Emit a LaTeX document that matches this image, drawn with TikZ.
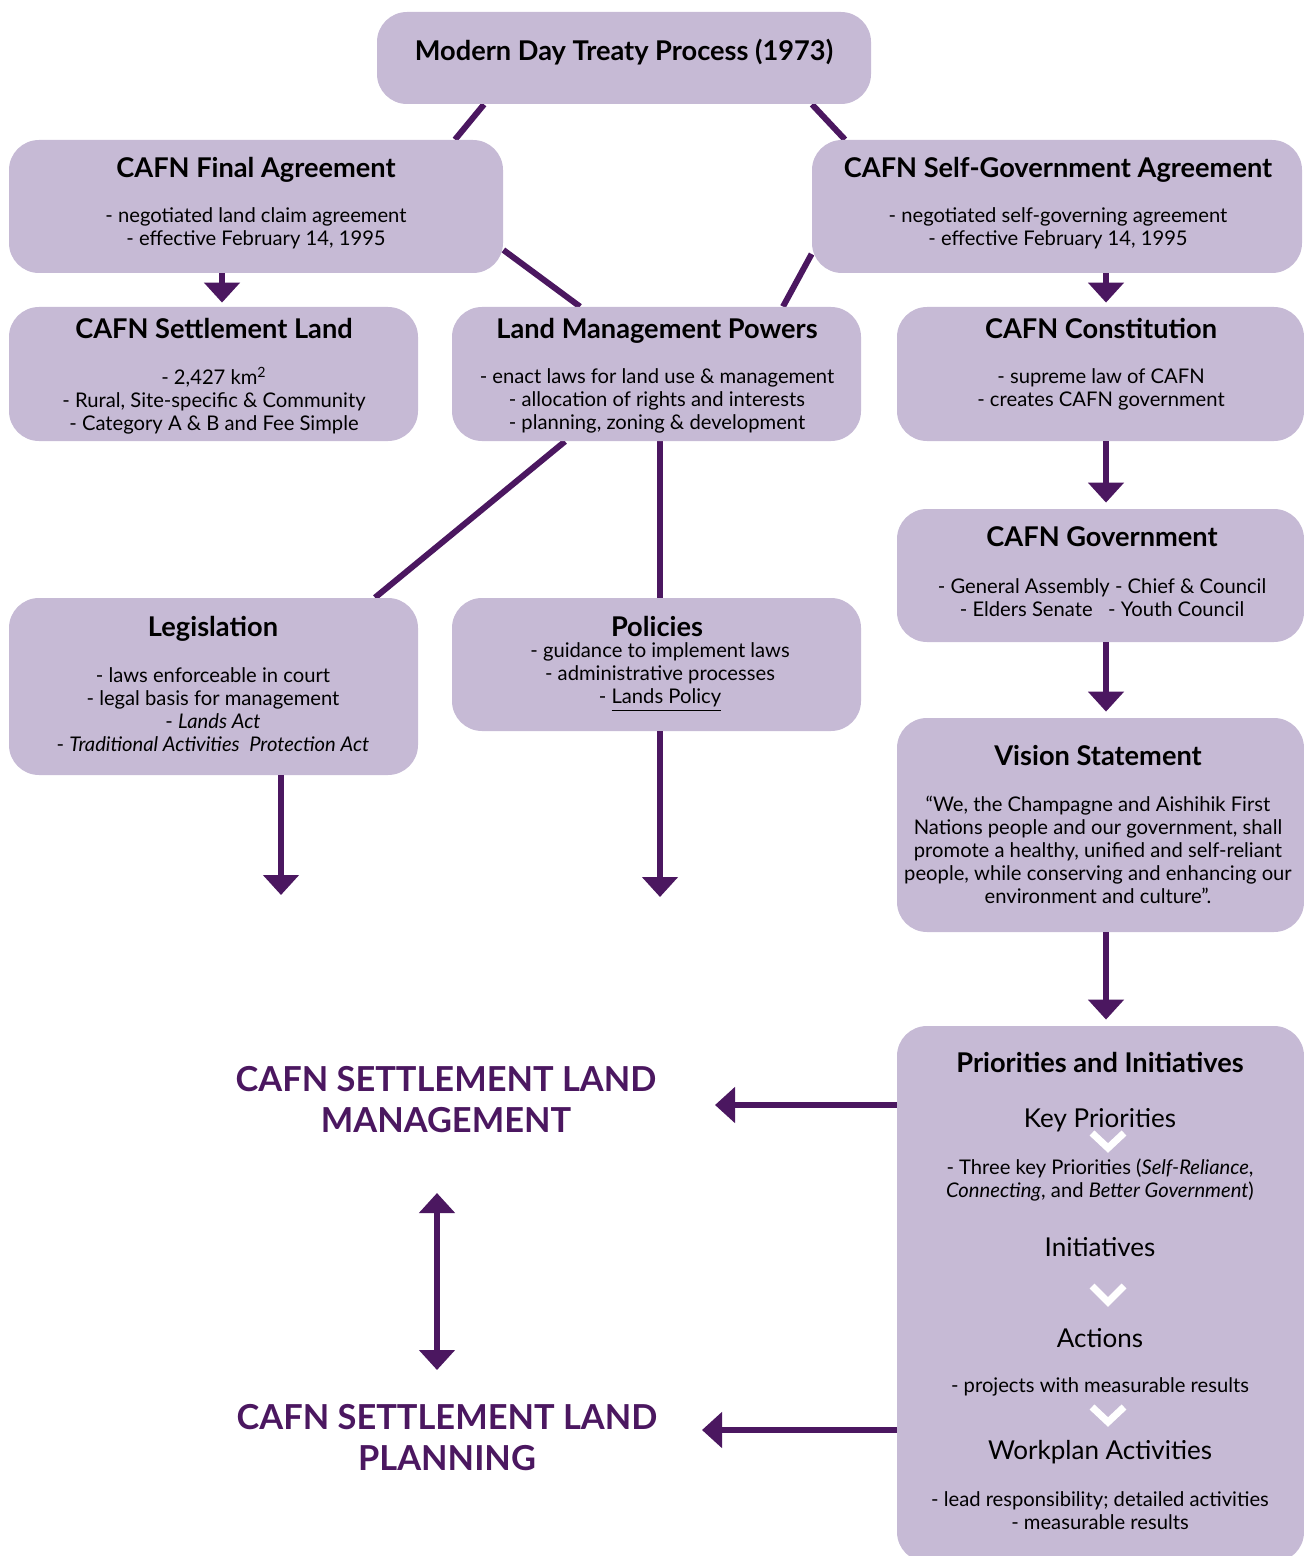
\documentclass[tikz,border=0pt]{standalone}
\usepackage{fontspec}
\setmainfont{Lato}
\usetikzlibrary{arrows.meta,fit,backgrounds}
\definecolor{boxfill}{HTML}{C6BAD5}
\definecolor{plum}{HTML}{4B1760}
\begin{document}
\begin{tikzpicture}[x=0.5pt, y=-0.5pt,
  box/.style = {fill=boxfill, rounded corners=15pt, inner sep=0pt},
  ttl/.style = {font=\fontsize{13.6}{15}\selectfont\bfseries, inner sep=0pt, anchor=base},
  txt/.style = {font=\fontsize{10.1}{11.5}\selectfont, align=center, inner sep=0pt},
  sub/.style = {font=\fontsize{13}{15}\selectfont, inner sep=0pt, anchor=base},
  big/.style = {font=\fontsize{17.2}{20.5}\selectfont\bfseries, text=plum, align=center, inner sep=0pt},
  link/.style = {draw=plum, line width=3pt},
  arr/.style = {link, -{Triangle[width=17.5pt,length=10pt]}},
  chev/.style = {draw=white, line width=3.5pt}]

\useasboundingbox (0,0) rectangle (1304,1556);

% boxes
\node[box, fit={(377,12) (871,104)}] (treaty) {};
\node[box, fit={(9,140) (503,273)}] (final) {};
\node[box, fit={(812,140) (1302,273)}] (selfgov) {};
\node[box, fit={(9,307) (418,441)}] (land) {};
\node[box, fit={(452,307) (861,441)}] (powers) {};
\node[box, fit={(897,307) (1304,441)}] (constit) {};
\node[box, fit={(897,509) (1304,642)}] (gov) {};
\node[box, fit={(9,598) (418,775)}] (legis) {};
\node[box, fit={(452,598) (861,731)}] (policy) {};
\node[box, fit={(897,718) (1304,932)}] (vision) {};
\node[box, fit={(897,1026) (1304,1562)}] (prior) {};

% texts
\node[ttl] (treatyt) at (624,61) {Modern Day Treaty Process (1973)};

\node[ttl] (finalt) at (256,178) {CAFN Final Agreement};
\node[txt] (finalb) at (256,228.5) {- negotiated land claim agreement\\- effective February 14, 1995};

\node[ttl] (selfgovt) at (1058,178) {CAFN Self-Government Agreement};
\node[txt] (selfgovb) at (1058,228.5) {- negotiated self-governing agreement\\- effective February 14, 1995};

\node[ttl] (landt) at (214,339) {CAFN Settlement Land};
\node[txt] (landb) at (214,401) {- 2,427 km\textsuperscript{2}\\- Rural, Site-specific \& Community\\- Category A \& B and Fee Simple};

\node[ttl] (powerst) at (657,339) {Land Management Powers};
\node[txt] (powersb) at (657,401) {- enact laws for land use \& management\\- allocation of rights and interests\\- planning, zoning \& development};

\node[ttl] (constitt) at (1101,339) {CAFN Constitution};
\node[txt] (constitb) at (1101,389.5) {- supreme law of CAFN\\- creates CAFN government};

\node[ttl] (govt) at (1102,546) {CAFN Government};
\node[txt] (govb) at (1102,597.5) {- General Assembly - Chief \& Council\\- Elders Senate \ \ - Youth Council};

\node[ttl] (legist) at (213,636) {Legislation};
\node[txt] (legisb) at (213,710) {- laws enforceable in court\\- legal basis for management\\- \textit{Lands Act}\\- \textit{Traditional Activities\ \ Protection Act}};

\node[ttl] (policyt) at (657,636) {Policies};
\node[txt] (policyb) at (660,677) {- guidance to implement laws\\- administrative processes\\- \underline{Lands Policy}};

\node[ttl] (visiont) at (1098,765) {Vision Statement};
\node[txt] (visionb) at (1098,850) {“We, the Champagne and Aishihik First\\Nations people and our government, shall\\promote a healthy, unified and self-reliant\\people, while conserving and enhancing our\\environment and culture”.};

\node[ttl] (priort) at (1100,1072) {Priorities and Initiatives};
\node[sub] (keyp) at (1100,1127) {Key Priorities};
\node[txt] (keypb) at (1100,1180) {- Three key Priorities (\textit{Self-Reliance},\\\textit{Connecting}, and \textit{Better Government})};
\node[sub] (initv) at (1100,1256) {Initiatives};
\node[sub] (actn) at (1100,1347) {Actions};
\node[txt] (actnb) at (1100,1387) {- projects with measurable results};
\node[sub] (workp) at (1100,1459) {Workplan Activities};
\node[txt] (workpb) at (1100,1511) {- lead responsibility; detailed activities\\- measurable results};

% chevrons
\draw[chev] (1092,1133) -- (1108,1148) -- (1124,1133);
\draw[chev] (1092,1286) -- (1108,1302) -- (1124,1286);
\draw[chev] (1092,1407) -- (1108,1422) -- (1124,1407);

% outcomes
\node[big] (mgmt) at (446,1100) {CAFN SETTLEMENT LAND\\MANAGEMENT};
\node[big] (plan) at (447,1438) {CAFN SETTLEMENT LAND\\PLANNING};
\coordinate (legout) at (281,895);
\coordinate (polout) at (660,897);
\coordinate (mgmtin) at (715,1105);
\coordinate (planin) at (702,1430);
\coordinate (dtop) at (437,1193);
\coordinate (dbot) at (437,1370);

% connectors
\begin{scope}[on background layer]
  \draw[link] (treaty.south -| 484,0) -- (final.north -| 455,0);
  \draw[link] (treaty.south -| 812,0) -- (selfgov.north -| 845,0);
  \draw[link] (final.east |- 0,250) -- (powers.north -| 580,0);
  \draw[link] (selfgov.west |- 0,254) -- (powers.north -| 783,0);
  \draw[link] (powers.south -| 565,0) -- (legis.north -| 375,0);
  \draw[link] (powers.south -| 660,0) -- (policy.north -| 660,0);
\end{scope}
\draw[arr, shorten >=2pt] (final.south -| 222,0) -- (land.north -| 222,0);
\draw[arr, shorten >=2pt] (selfgov.south -| 1106,0) -- (constit.north -| 1106,0);
\draw[arr, shorten >=3pt] (constit.south -| 1106,0) -- (gov.north -| 1106,0);
\draw[arr, shorten >=3pt] (gov.south -| 1106,0) -- (vision.north -| 1106,0);
\draw[arr, shorten >=3pt] (vision.south -| 1106,0) -- (prior.north -| 1106,0);
\draw[arr] (legis.south -| 281,0) -- (legout);
\draw[arr] (policy.south -| 660,0) -- (polout);
\draw[arr] (prior.west |- 0,1105) -- (mgmtin);
\draw[arr] (prior.west |- 0,1430) -- (planin);
\draw[link, {Triangle[width=17.5pt,length=10pt]}-{Triangle[width=17.5pt,length=10pt]}] (dtop) -- (dbot);
\end{tikzpicture}
\end{document}
